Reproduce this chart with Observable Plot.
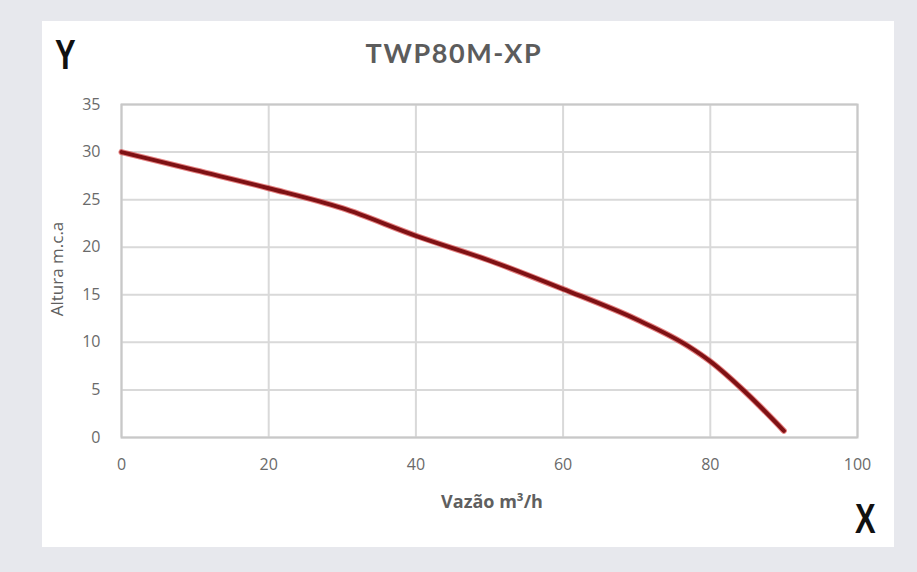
<!DOCTYPE html>
<html>
<head>
<meta charset="utf-8">
<script src="https://cdn.jsdelivr.net/npm/d3@7"></script>
<script src="https://cdn.jsdelivr.net/npm/@observablehq/plot@0.6"></script>
<style>
  html, body { margin: 0; padding: 0; }
  body { width: 917px; height: 572px; background: #e7e8ed; position: relative; overflow: hidden; font-family: "Open Sans", Lato, sans-serif; }
  #panel { position: absolute; left: 42px; top: 21px; width: 852px; height: 526px; background: #ffffff; }
  #chart { position: absolute; left: 0; top: 0; }
  .lbl { position: absolute; white-space: nowrap; }
  .big { font: 700 43px "Liberation Sans", Arial, sans-serif; color: #111; transform-origin: 0 0; transform: scaleX(0.72); line-height: 1; }
</style>
</head>
<body>
<div id="panel"></div>
<div id="chart"></div>
<div class="lbl big" id="ylet" style="left:55px; top:33px;">Y</div>
<div class="lbl big" id="xlet" style="left:855px; top:497px;">X</div>
<div class="lbl" id="title" style="left:0; width:908px; text-align:center; top:36px; font: 700 27px Lato, sans-serif; color:#5c5c5c; letter-spacing:1.6px;"></div>
<div class="lbl" id="xlabel" style="left:0; width:984px; text-align:center; top:489px; font: 700 18px 'Open Sans', sans-serif; color:#5f5f5f;"></div>
<div class="lbl" id="ylabel" style="left:56px; top:269px; transform: translate(-50%,-50%) rotate(-90deg); font: 400 17px 'Open Sans', sans-serif; color:#5f5f5f;"></div>
<script>
const titleText = "TWP80M-XP";
const xLabel = "Vazão m³/h";
const yLabel = "Altura m.c.a";
const xTicks = [0, 20, 40, 60, 80, 100];
const yTicks = [0, 5, 10, 15, 20, 25, 30, 35];
const flow = [0, 10, 20, 30, 40, 50, 60, 70, 77, 80, 85, 90];
const head = [30, 28.1, 26.2, 24.1, 21.2, 18.6, 15.6, 12.4, 9.6, 8.0, 4.6, 0.7];

const data = flow.map((x, i) => ({x, y: head[i]}));

document.getElementById("title").textContent = titleText;
document.getElementById("xlabel").textContent = xLabel;
document.getElementById("ylabel").textContent = yLabel;

const chart = Plot.plot({
  width: 917,
  height: 572,
  marginLeft: 121,
  marginRight: 60,
  marginTop: 104,
  marginBottom: 135,
  style: {background: "transparent", fontFamily: "'Open Sans', sans-serif", fontSize: "16px", color: "#6a6a6a"},
  x: {domain: [0, 100], ticks: xTicks, label: null},
  y: {domain: [0, 35], ticks: yTicks, label: null},
  marks: [
    Plot.gridX(xTicks, {stroke: "#d9d9d9", strokeOpacity: 1, strokeWidth: 2}),
    Plot.gridY(yTicks, {stroke: "#d9d9d9", strokeOpacity: 1, strokeWidth: 2}),
    Plot.frame({stroke: "#c8c8c8", strokeWidth: 2}),
    Plot.axisX(xTicks, {tickSize: 0, tickPadding: 21, fill: "#6a6a6a", fontSize: 16}),
    Plot.axisY(yTicks, {tickSize: 0, tickPadding: 21, fill: "#6a6a6a", fontSize: 16}),
    Plot.line(data, {x: "x", y: "y", curve: "monotone-x", stroke: "#d01818", strokeWidth: 6, strokeOpacity: 0.55, strokeLinecap: "round"}),
    Plot.line(data, {x: "x", y: "y", curve: "monotone-x", stroke: "#7e1114", strokeWidth: 4, strokeLinecap: "round"})
  ]
});
document.getElementById("chart").appendChild(chart);
</script>
</body>
</html>
